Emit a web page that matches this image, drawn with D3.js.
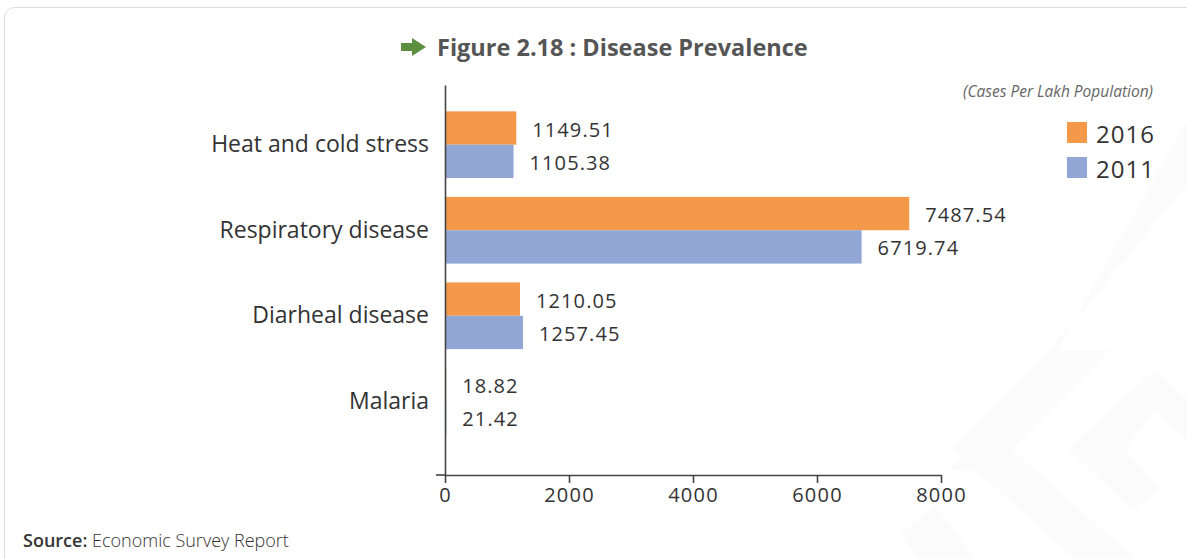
<!DOCTYPE html>
<html>
<head>
<meta charset="utf-8">
<script src="https://cdn.jsdelivr.net/npm/d3@7"></script>
<style>
  html, body { margin: 0; padding: 0; background: #fff; }
  svg { display: block; }
  text { font-family: "Open Sans", "Noto Sans", sans-serif; }
</style>
</head>
<body>
<svg id="chart" width="1187" height="559"></svg>
<script>
// Disease prevalence, cases per lakh population
const categories = ["Heat and cold stress", "Respiratory disease", "Diarheal disease", "Malaria"];
const seriesKeys = ["2016", "2011"];
const values2016 = [1149.51, 7487.54, 1210.05, 18.82];
const values2011 = [1105.38, 6719.74, 1257.45, 21.42];
const xTickValues = [0, 2000, 4000, 6000, 8000];
const seriesColors = ["#f4994a", "#93a7d6"];

const rows = categories.map((c, i) => ({ category: c, "2016": values2016[i], "2011": values2011[i] }));

const svg = d3.select("#chart");

// card background
svg.append("rect")
  .attr("x", 4.5).attr("y", 7.5)
  .attr("width", 1200).attr("height", 600)
  .attr("rx", 10).attr("ry", 10)
  .attr("fill", "#fff")
  .attr("stroke", "#dcdcdc")
  .attr("stroke-width", 1);

// faint decorative chevrons in the lower right corner
const deco = svg.append("g").attr("fill", "#fbfbfb");
[
  [[1187, 120], [1187, 185], [950, 470], [990, 470]],
  [[1050, 350], [1110, 350], [1012, 449], [1135, 559], [1075, 559], [952, 449]],
  [[1155, 370], [1187, 400], [1187, 440], [1155, 410], [1125, 449], [1160, 490], [1133, 510], [1068, 449]],
  [[900, 535], [935, 505], [975, 559], [920, 559]]
].forEach(p => deco.append("polygon").attr("points", p.map(d => d.join(",")).join(" ")));

// title
const title = svg.append("g");
title.append("path")
  .attr("d", "M401,43 L412,43 L412,38 L426,47 L412,56 L412,51 L401,51 Z")
  .attr("fill", "#5c8f3f");
title.append("text")
  .attr("x", 437).attr("y", 47)
  .attr("dominant-baseline", "central")
  .attr("font-size", 23.5).attr("font-weight", 700)
  .attr("fill", "#555")
  .text("Figure 2.18 : Disease Prevalence");

// unit note
svg.append("text")
  .attr("x", 1153).attr("y", 91)
  .attr("text-anchor", "end").attr("dominant-baseline", "central")
  .attr("font-size", 15.5).attr("font-style", "italic")
  .attr("fill", "#666")
  .text("(Cases Per Lakh Population)");

// scales
const x = d3.scaleLinear().domain([0, 8000]).range([445, 941]);
const y = d3.scaleBand().domain(categories).range([85, 475])
  .paddingInner(0.22).paddingOuter(0.39).align(0.395);
const ySub = d3.scaleBand().domain(seriesKeys).range([0, y.bandwidth()]);
const color = d3.scaleOrdinal().domain(seriesKeys).range(seriesColors);

// bars
const groups = svg.append("g").selectAll("g")
  .data(rows).join("g")
  .attr("transform", d => `translate(0,${y(d.category)})`);

groups.selectAll("rect")
  .data(d => seriesKeys.map(k => ({ key: k, value: d[k] })))
  .join("rect")
  .attr("x", x(0))
  .attr("y", d => ySub(d.key))
  .attr("width", d => x(d.value) - x(0))
  .attr("height", ySub.bandwidth())
  .attr("fill", d => color(d.key));

groups.selectAll("text")
  .data(d => seriesKeys.map(k => ({ key: k, value: d[k] })))
  .join("text")
  .attr("x", d => x(d.value) + 16)
  .attr("y", d => ySub(d.key) + ySub.bandwidth() / 2 + 1)
  .attr("dominant-baseline", "central")
  .attr("font-size", 20)
  .attr("letter-spacing", 1.1)
  .attr("fill", "#333")
  .text(d => d3.format(".2f")(d.value));

// y axis
const yAxis = svg.append("g")
  .attr("transform", `translate(${x(0)},0)`)
  .call(d3.axisLeft(y).tickSize(0).tickSizeOuter(0).tickPadding(16));
yAxis.select(".domain").attr("stroke", "#444").attr("stroke-width", 1.6);
yAxis.selectAll("text")
  .attr("font-size", 23)
  .attr("fill", "#333")
  .style("font-family", "'Open Sans', 'Noto Sans', sans-serif");

// x axis
const xAxis = svg.append("g")
  .attr("transform", "translate(0,475)")
  .call(d3.axisBottom(x).tickValues(xTickValues).tickFormat(d3.format("d")).tickSize(8).tickSizeOuter(0).tickPadding(5));
xAxis.select(".domain").attr("stroke", "#444").attr("stroke-width", 1.6);
xAxis.selectAll(".tick line").attr("stroke", "#444").attr("stroke-width", 1.6);
xAxis.selectAll("text")
  .attr("font-size", 20)
  .attr("letter-spacing", 1.2)
  .attr("fill", "#333")
  .style("font-family", "'Open Sans', 'Noto Sans', sans-serif");
xAxis.append("line")
  .attr("x1", x(0) - 9).attr("x2", x(0))
  .attr("y1", 0).attr("y2", 0)
  .attr("stroke", "#444").attr("stroke-width", 1.6);

// legend
const legend = svg.append("g").selectAll("g")
  .data(seriesKeys).join("g")
  .attr("transform", (d, i) => `translate(1067,${122 + i * 35})`);
legend.append("rect")
  .attr("width", 20).attr("height", 21)
  .attr("fill", d => color(d));
legend.append("text")
  .attr("x", 29).attr("y", 11)
  .attr("dominant-baseline", "central")
  .attr("font-size", 24)
  .attr("letter-spacing", 1)
  .attr("fill", "#333")
  .text(d => d);

// source
const src = svg.append("text")
  .attr("x", 23).attr("y", 540)
  .attr("dominant-baseline", "central")
  .attr("font-size", 18)
  .attr("fill", "#333");
src.append("tspan").attr("font-weight", 600).text("Source:");
src.append("tspan").attr("font-weight", 300).text(" Economic Survey Report");
</script>
</body>
</html>
